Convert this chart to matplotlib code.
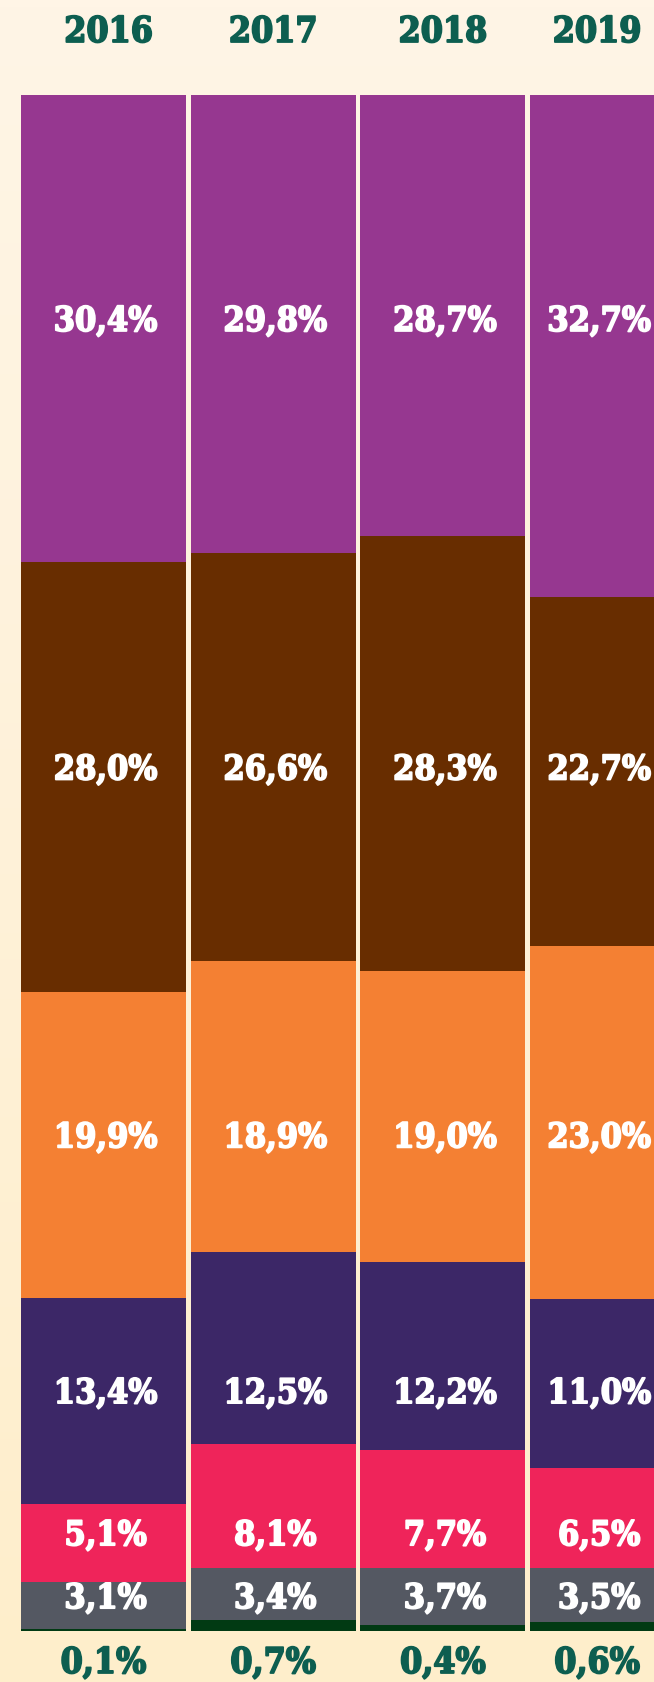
#! /usr/bin/env python
# -*- coding: utf-8 -*-

# Barras apiladas al 100% por año (2016-2019)

import numpy as np
import matplotlib
matplotlib.use('Agg')
import matplotlib.pyplot as plt
import matplotlib.patheffects as pe
from matplotlib.colors import LinearSegmentedColormap
from matplotlib import transforms

# ******************************************************************************
# Datos

anios = ['2016', '2017', '2018', '2019']

# De arriba a abajo
morado = [30.4, 29.8, 28.7, 32.7]
marron = [28.0, 26.6, 28.3, 22.7]
naranja = [19.9, 18.9, 19.0, 23.0]
indigo = [13.4, 12.5, 12.2, 11.0]
rojo = [5.1, 8.1, 7.7, 6.5]
gris = [3.1, 3.4, 3.7, 3.5]
verde = [0.1, 0.7, 0.4, 0.6]

# ******************************************************************************
# Estilo

colores = {
    'morado': '#963790',
    'marron': '#682d00',
    'naranja': '#f48033',
    'indigo': '#3c2767',
    'rojo': '#ef245a',
    'gris': '#545862',
    'verde': '#013a13',
}
color_texto = '#0d5e50'
fuente = {'family': ['DejaVu Serif'], 'weight': 'bold', 'stretch': 'condensed'}

def grueso(color):
    # Engorda un poco el trazo de la letra
    return [pe.withStroke(linewidth=1.3, foreground=color)]

W, H = 654, 1682
fig = plt.figure(figsize=(W / 100, H / 100), dpi=100)

# Fondo crema con degradado vertical
fondo = fig.add_axes([0, 0, 1, 1], zorder=-1)
cmap = LinearSegmentedColormap.from_list('crema', ['#fff5e6', '#feeecb'])
fondo.imshow(np.linspace(0, 1, 256).reshape(-1, 1), aspect='auto', cmap=cmap,
             extent=[0, 1, 0, 1])
fondo.axis('off')

# Zona de barras: de y=95 a y=1631 px
y_top, y_bot = 95, 1631
ax = fig.add_axes([0, (H - y_bot) / H, 1, (y_bot - y_top) / H])
ax.patch.set_alpha(0)

paso = 169.7
x0 = np.arange(len(anios))
ancho = 165 / paso
ax.set_xlim(-103.5 / paso, (W - 103.5) / paso)
ax.set_ylim(0, 100)
ax.axis('off')

# Series apiladas desde abajo
series = [('verde', verde), ('gris', gris), ('rojo', rojo), ('indigo', indigo),
          ('naranja', naranja), ('marron', marron), ('morado', morado)]

base = np.zeros(len(anios))
centros = {}
for nombre, valores in series:
    v = np.array(valores)
    ax.bar(x0, v, bottom=base, width=ancho, color=colores[nombre],
           linewidth=0)
    centros[nombre] = base + v / 2
    base = base + v

# Posición x de las etiquetas; la última barra está cortada por el borde
xmax = ax.get_xlim()[1]
x_etq = x0.astype(float)
x_etq[-1] = (x0[-1] - ancho / 2 + xmax) / 2 + 0.03

# Etiquetas dentro de las barras: misma fila para todos los años (la del 2016)
desplaza = transforms.offset_copy(ax.transData, fig=fig, x=2, y=7, units='dots')
for nombre, valores in series[1:]:
    yfila = centros[nombre][0]
    for i, val in enumerate(valores):
        etq = ('%.1f%%' % val).replace('.', ',')
        ax.text(x_etq[i], yfila, etq, transform=desplaza, ha='center',
                va='center', color='white', fontsize=24.5,
                path_effects=grueso('white'), **fuente)

# Años arriba y porcentaje de la serie verde abajo
trans_anio = transforms.blended_transform_factory(ax.transData, fig.transFigure)
for i, anio in enumerate(anios):
    ax.text(x_etq[i] + (0.03 if i == 0 else 0), 1 - 32 / H, anio,
            transform=trans_anio, ha='center', va='center', color=color_texto,
            fontsize=25.5, path_effects=grueso(color_texto), **fuente)
    etq = ('%.1f%%' % verde[i]).replace('.', ',')
    ax.text(x_etq[i], 1 - 1663 / H, etq, transform=trans_anio, ha='center',
            va='center', color=color_texto, fontsize=25.5,
            path_effects=grueso(color_texto), **fuente)

fig.savefig('out.png', dpi=100)
